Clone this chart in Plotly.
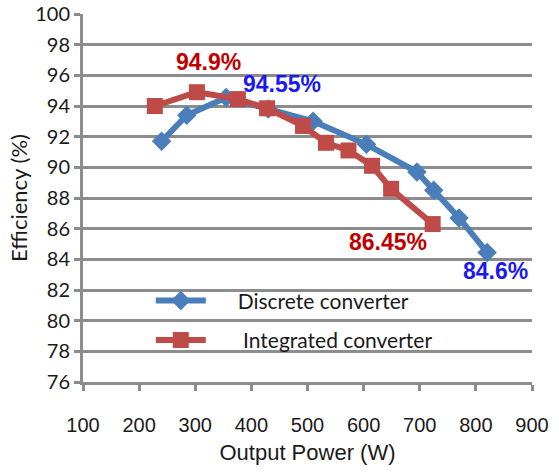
import plotly.graph_objects as go

# Discrete converter
discrete_power = [240, 285, 355, 430, 510, 605, 695, 725, 770, 820]
discrete_eff = [91.7, 93.4, 94.55, 93.8, 93.0, 91.5, 89.7, 88.5, 86.7, 84.45]

# Integrated converter
integrated_power = [228, 303, 376, 428, 492, 533, 573, 615, 649, 723]
integrated_eff = [94.0, 94.9, 94.45, 93.85, 92.7, 91.6, 91.1, 90.1, 88.6, 86.3]

x_ticks = [100, 200, 300, 400, 500, 600, 700, 800, 900]
y_ticks = list(range(76, 101, 2))

blue = "#4a7ebb"
red = "#be4b48"
grid = "#8c8c8c"
font = "Lato, Open Sans, sans-serif"
arial = "Liberation Sans, Arial, sans-serif"
pad = "\u00a0" * 5

fig = go.Figure()
fig.add_trace(go.Scatter(
    x=discrete_power, y=discrete_eff, mode="lines+markers",
    name=pad + "Discrete converter", legendgroup="a",
    line=dict(color=blue, width=6),
    marker=dict(symbol="diamond", size=15, color=blue),
))
fig.add_trace(go.Scatter(
    x=integrated_power, y=integrated_eff, mode="lines+markers",
    name=pad + " Integrated converter", legendgroup="b",
    line=dict(color=red, width=6),
    marker=dict(symbol="square", size=16, color=red),
))

# peak / end labels
labels = [
    (integrated_power[1], integrated_eff[1], "94.9%", "#c00000", 12, 30),
    (discrete_power[2], discrete_eff[2], "94.55%", "#1a1af0", 56, 14),
    (integrated_power[-1], integrated_eff[-1], "86.45%", "#c00000", -45, -18),
    (discrete_power[-1], discrete_eff[-1], "84.6%", "#1a1af0", 8, -19),
]
for x, y, t, c, dx, dy in labels:
    fig.add_annotation(x=x, y=y, text="<b>%s</b>" % t, showarrow=False,
                       xshift=dx, yshift=dy,
                       font=dict(family=arial, size=23, color=c))

fig.update_layout(
    width=559, height=472,
    margin=dict(l=83, r=27, t=14, b=90),
    plot_bgcolor="white", paper_bgcolor="white",
    font=dict(family=font, size=20, color="#1a1a1a"),
    showlegend=True,
    legend=dict(x=0.151, y=0.276, xanchor="left", yanchor="top",
                bgcolor="rgba(0,0,0,0)", font=dict(size=21),
                tracegroupgap=9, itemwidth=50),
    xaxis=dict(
        range=[100, 900], tickvals=x_ticks, showgrid=False, automargin=False,
        showline=True, linecolor=grid, linewidth=3,
        ticks="outside", ticklen=6, tickwidth=3, tickcolor=grid,
        ticklabelstandoff=17, tickfont=dict(family=arial, size=20),
        title=dict(text="Output Power (W)", standoff=10,
                   font=dict(family=arial, size=22)),
    ),
    yaxis=dict(
        range=[76, 100], tickvals=y_ticks, automargin=False,
        showgrid=True, gridcolor=grid, gridwidth=3,
        showline=True, linecolor=grid, linewidth=3,
        ticks="outside", ticklen=6, tickwidth=3, tickcolor=grid,
        title=dict(text="Efficiency (%)", standoff=2, font=dict(size=22)),
    ),
)

# drop the default 8px page margin so the figure sits at the window corner
fig.write_html("out.html", config={"displayModeBar": False},
               post_script="document.body.style.margin='0';")
